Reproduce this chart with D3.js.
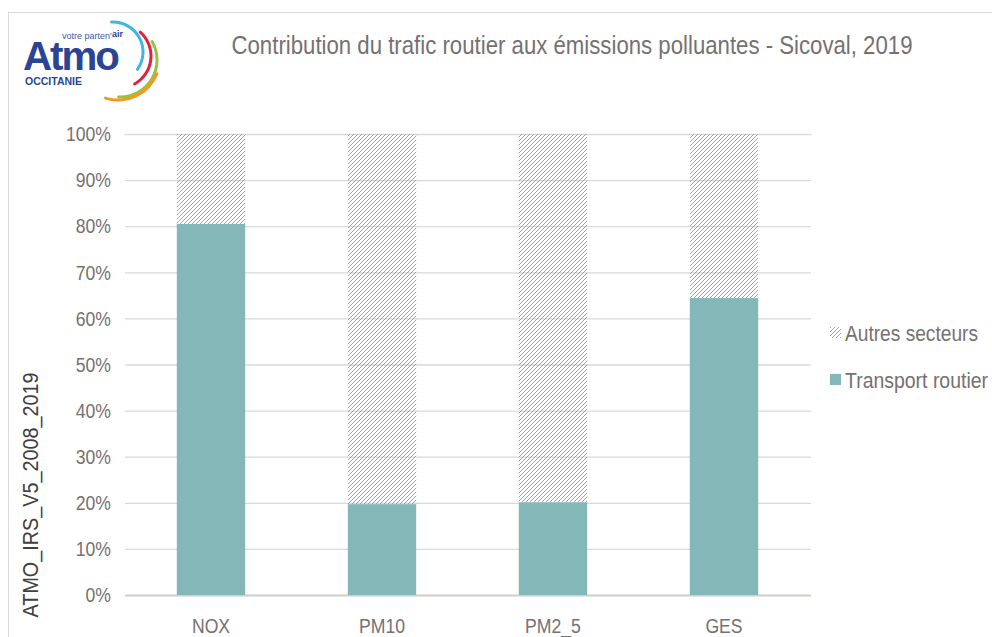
<!DOCTYPE html>
<html>
<head>
<meta charset="utf-8">
<script src="https://cdn.jsdelivr.net/npm/d3@7"></script>
<style>
  body { margin: 0; background: #fff; }
  text { font-family: "Liberation Sans", Arial, sans-serif; }
</style>
</head>
<body>
<div id="chartContainer"></div>
<script>
// data
var polluants = ["NOX", "PM10", "PM2_5", "GES"];
var transportRoutier = [0.805, 0.197, 0.201, 0.644];
var autresSecteurs = transportRoutier.map(function(v){ return 1 - v; });
var yTicks = [0, 0.1, 0.2, 0.3, 0.4, 0.5, 0.6, 0.7, 0.8, 0.9, 1];

var width = 992;
var height = 637;
var barColor = "#84b7b8";
var textColor = "#767171";
// no narrow font installed, squeeze the text horizontally
var narrow = "scale(0.84,1)";

var svg = d3.select('#chartContainer')
    .append('svg')
    .attr("width", width)
    .attr("height", height);

// pattern for "Autres secteurs"
var defs = svg.append("defs");
var pat = defs.append("pattern")
    .attr("id", "hatch")
    .attr("patternUnits", "userSpaceOnUse")
    .attr("width", 4).attr("height", 4);
pat.append("path")
    .attr("d", "M-1,1 l2,-2 M0,4 l4,-4 M3,5 l2,-2")
    .attr("stroke", "#5fa9ab")
    .attr("stroke-width", 0.85);

// outer frame
svg.append("rect")
    .attr("x", 8.5).attr("y", 12.5)
    .attr("width", 1000).attr("height", 700)
    .attr("fill", "none")
    .attr("stroke", "#d9d9d9");

/*** scales ***/
var xScale = d3.scaleBand().domain(polluants).range([125.5, 809.5]).paddingInner(0.6).paddingOuter(0.3);
var yScale = d3.scaleLinear().domain([0, 1]).range([595, 134]);

// gridlines
var grid = svg.append("g")
    .attr("transform", "translate(125,0)")
    .call(d3.axisLeft(yScale).tickValues(yTicks).tickSize(-(811 - 125)).tickFormat(""));
grid.select(".domain").remove();
grid.selectAll("line").attr("stroke", "#d9d9d9").attr("stroke-width", 1.3);
grid.selectAll("line").filter(function(d){ return d === 0; }).attr("stroke", "#d0cec8").attr("stroke-width", 2);

// y tick labels
var yAxis = svg.append("g")
    .attr("transform", "translate(111,0)")
    .call(d3.axisLeft(yScale).tickValues(yTicks).tickSize(0).tickFormat(d3.format(".0%")));
yAxis.select(".domain").remove();
yAxis.selectAll("text")
    .attr("fill", textColor)
    .attr("font-size", 21)
    .attr("text-anchor", "end")
    .attr("x", 0)
    .attr("transform", narrow);

// bars
var bars = svg.append("g").classed("bars", true);
bars.selectAll("rect.tr")
    .data(polluants)
    .enter().append("rect")
    .attr("x", function(d){ return xScale(d); })
    .attr("width", xScale.bandwidth())
    .attr("y", function(d, i){ return yScale(transportRoutier[i]); })
    .attr("height", function(d, i){ return yScale(0) - yScale(transportRoutier[i]); })
    .attr("fill", barColor);
bars.selectAll("rect.au")
    .data(polluants)
    .enter().append("rect")
    .attr("x", function(d){ return xScale(d); })
    .attr("width", xScale.bandwidth())
    .attr("y", function(d, i){ return yScale(transportRoutier[i] + autresSecteurs[i]); })
    .attr("height", function(d, i){ return yScale(transportRoutier[i]) - yScale(transportRoutier[i] + autresSecteurs[i]); })
    .attr("fill", "url(#hatch)");

// x axis labels
var xAxis = svg.append("g")
    .attr("transform", "translate(0,595)")
    .call(d3.axisBottom(xScale).tickSize(0));
xAxis.select(".domain").remove();
xAxis.selectAll("text")
    .attr("fill", textColor)
    .attr("font-size", 21)
    .attr("dy", 0)
    .attr("y", 38)
    .attr("transform", narrow);

// y axis title
svg.append("text")
    .attr("transform", "translate(38,495) rotate(-90) scale(0.9,1)")
    .attr("text-anchor", "middle")
    .attr("fill", "#404040")
    .attr("font-size", 22)
    .text("ATMO_IRS_V5_2008_2019");

// title
svg.append("text")
    .attr("x", 572).attr("y", 54)
    .attr("text-anchor", "middle")
    .attr("fill", textColor)
    .attr("font-size", 26)
    .attr("textLength", 681)
    .attr("lengthAdjust", "spacingAndGlyphs")
    .text("Contribution  du trafic routier aux émissions polluantes  - Sicoval, 2019");

// legend
var legend = svg.append("g").attr("transform", "translate(830,0)");
var legendItems = [
  {label: "Autres secteurs", fill: "url(#hatch)", y: 333, len: 133},
  {label: "Transport routier", fill: barColor, y: 380, len: 143}
];
legendItems.forEach(function(item){
  legend.append("rect")
    .attr("x", 0).attr("y", item.y - 6)
    .attr("width", 11).attr("height", 11)
    .attr("fill", item.fill);
  legend.append("text")
    .attr("x", 15).attr("y", item.y + 8)
    .attr("fill", textColor)
    .attr("font-size", 22)
    .attr("textLength", item.len)
    .attr("lengthAdjust", "spacingAndGlyphs")
    .text(item.label);
});

// logo
var logo = svg.append("g");
logo.append("text")
    .attr("x", 62).attr("y", 39)
    .attr("fill", "#3d5aa8")
    .attr("font-size", 9)
    .text("votre parten'");
logo.append("text")
    .attr("x", 112).attr("y", 37)
    .attr("fill", "#2c4494")
    .attr("font-size", 9)
    .attr("font-weight", "bold")
    .text("air");
logo.append("text")
    .attr("x", 23).attr("y", 70)
    .attr("fill", "#2c4494")
    .attr("font-size", 40)
    .attr("font-weight", "bold")
    .attr("letter-spacing", -2)
    .attr("textLength", 95)
    .attr("lengthAdjust", "spacingAndGlyphs")
    .text("Atmo");
logo.append("text")
    .attr("x", 25).attr("y", 85)
    .attr("fill", "#2c4494")
    .attr("font-size", 11)
    .attr("font-weight", "bold")
    .attr("textLength", 57)
    .attr("lengthAdjust", "spacingAndGlyphs")
    .text("OCCITANIE");
var arcs = [
  {cx: 113, cy: 52, r: 30, a0: -0.1, a1: 2.24, c: "#3ab7e3"},
  {cx: 119, cy: 56, r: 32, a0: 0.68, a1: 2.68, c: "#e2213e"},
  {cx: 120, cy: 60, r: 37, a0: 1.01, a1: 3.22, c: "#96c43c"},
  {cx: 118, cy: 58, r: 42, a0: 1.92, a1: 3.48, c: "#f39a1e"}
];
arcs.forEach(function(a){
  logo.append("path")
    .attr("transform", "translate(" + a.cx + "," + a.cy + ")")
    .attr("d", d3.arc().innerRadius(a.r - 1.5).outerRadius(a.r + 1.5).startAngle(a.a0).endAngle(a.a1).cornerRadius(1.5)())
    .attr("fill", a.c);
});
</script>
</body>
</html>
